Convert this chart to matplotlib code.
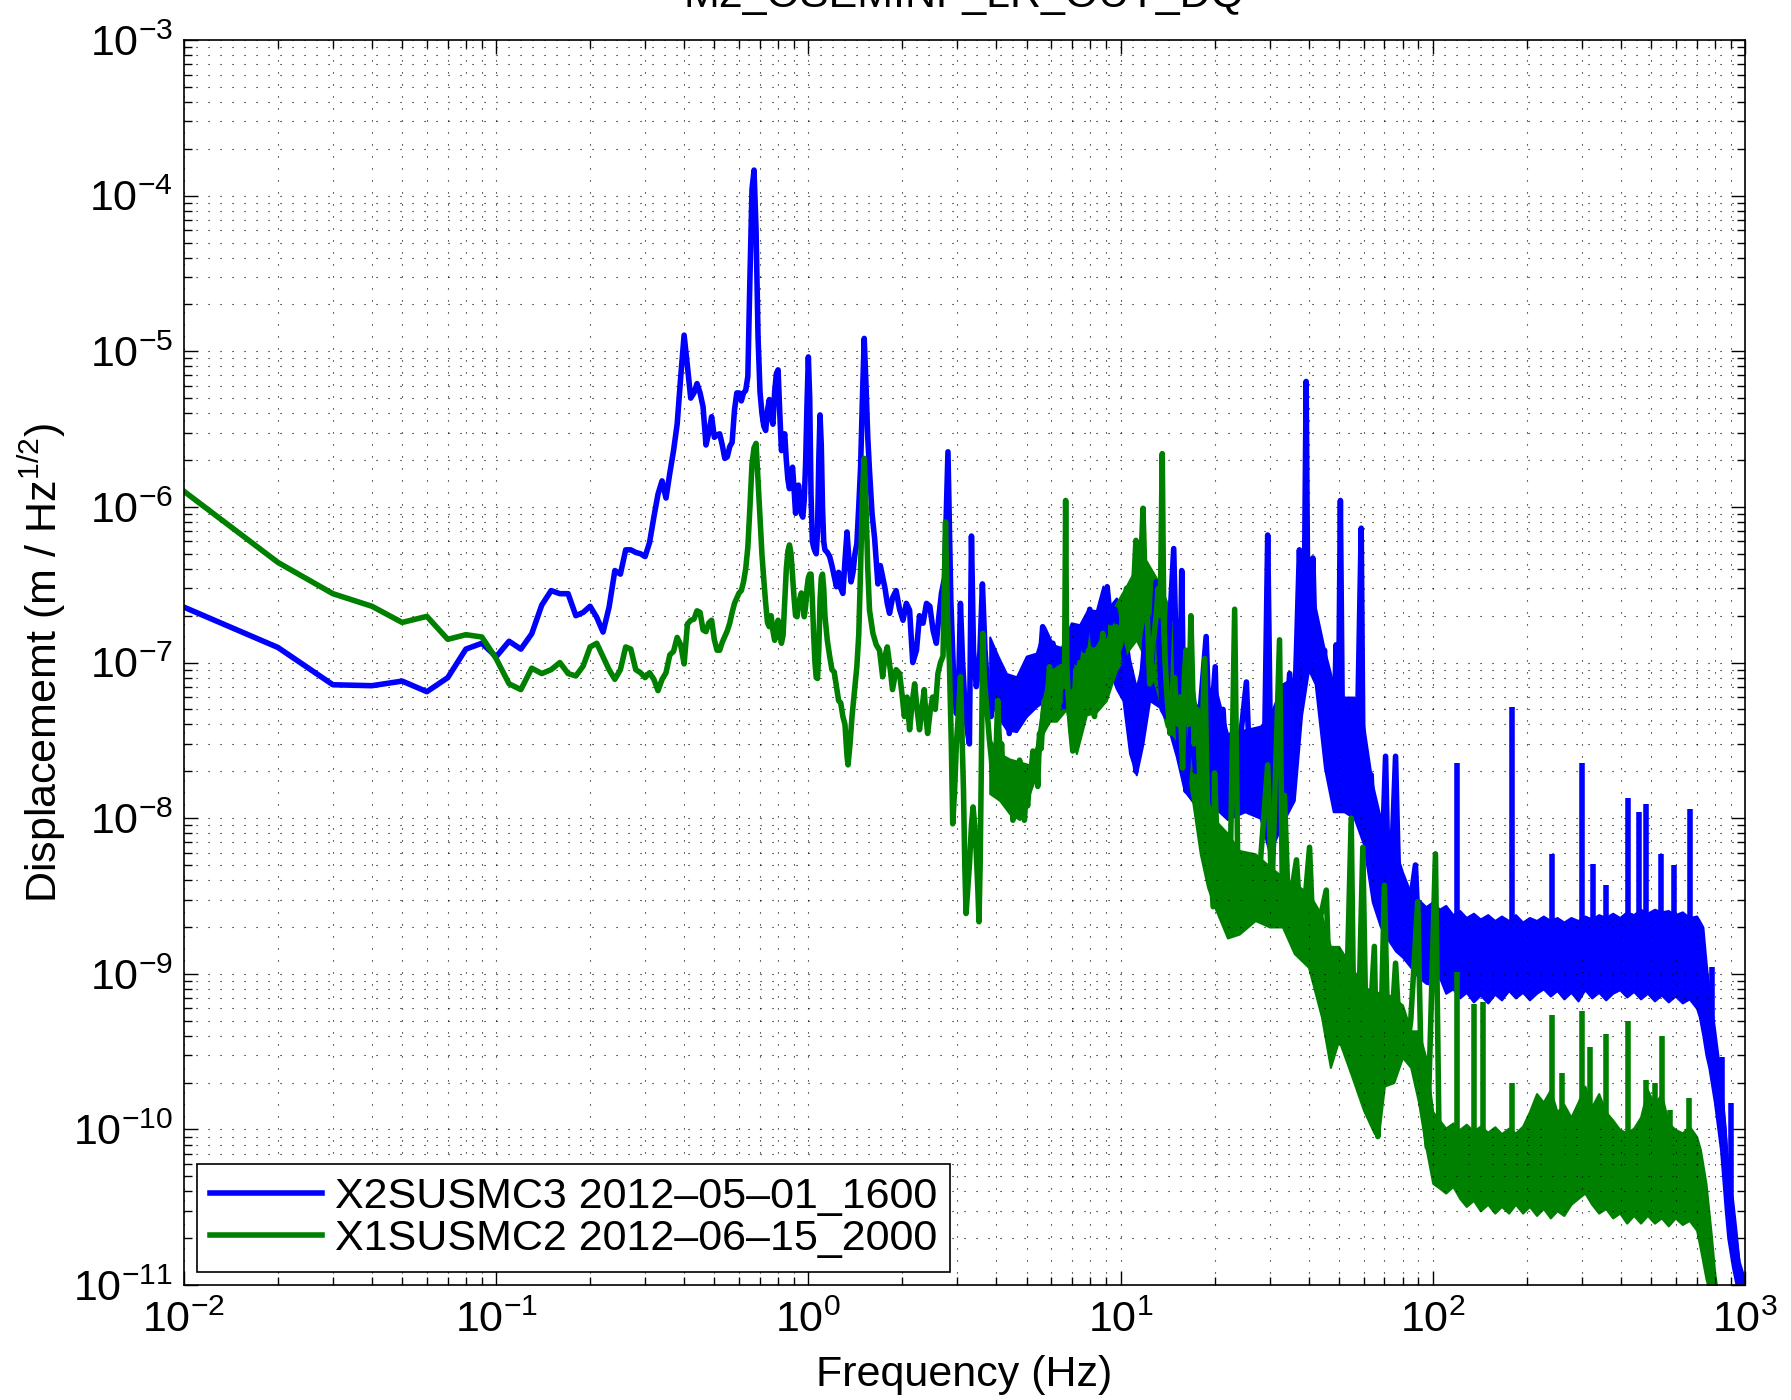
import numpy as np
import matplotlib
matplotlib.use('Agg')
import matplotlib.pyplot as plt
from matplotlib.ticker import LogLocator, NullFormatter

BLUE = (0.0, 0.0, 1.0)
GREEN = (0.0, 0.5, 0.0)

title = "M2_OSEMINF_LR_OUT_DQ"
legend_labels = ["X2SUSMC3 2012\u201305\u201301_1600", "X1SUSMC2 2012\u201306\u201315_2000"]

# X2SUSMC3 trace (Hz, m/rtHz)
blue_freq = [
    0.01, 0.02, 0.03, 0.04, 0.05, 0.06, 0.07, 0.08, 0.09, 0.10,
    0.11, 0.12, 0.13, 0.14, 0.15, 0.16, 0.17, 0.18, 0.19, 0.20,
    0.21, 0.22, 0.23, 0.24, 0.25, 0.26, 0.27, 0.28, 0.29, 0.30,
    0.31, 0.32, 0.33, 0.34, 0.35, 0.36, 0.37, 0.38, 0.39, 0.40,
    0.41, 0.42, 0.43, 0.44, 0.45, 0.46, 0.47, 0.48, 0.49, 0.50,
    0.51, 0.52, 0.53, 0.54, 0.55, 0.56, 0.57, 0.58, 0.59, 0.60,
    0.61, 0.62, 0.63, 0.64, 0.65, 0.66, 0.67, 0.68, 0.69, 0.70,
    0.71, 0.72, 0.73, 0.74, 0.75, 0.76, 0.77, 0.78, 0.79, 0.80,
    0.81, 0.82, 0.83, 0.84, 0.85, 0.86, 0.87, 0.88, 0.89, 0.90,
    0.91, 0.92, 0.93, 0.94, 0.95, 0.96, 0.97, 0.98, 0.99, 1.00,
    1.01, 1.02, 1.03, 1.04, 1.05, 1.06, 1.07, 1.08, 1.09, 1.10,
    1.11, 1.12, 1.13, 1.15, 1.17, 1.19, 1.21, 1.23, 1.25, 1.27,
    1.29, 1.31, 1.33, 1.35, 1.37, 1.39, 1.41, 1.43, 1.45, 1.47,
    1.49, 1.51, 1.53, 1.55, 1.57, 1.60, 1.63, 1.65, 1.67, 1.70,
    1.73, 1.76, 1.79, 1.82, 1.86, 1.91, 1.96, 2.01, 2.06, 2.11,
    2.16, 2.22, 2.27, 2.33, 2.39, 2.45, 2.51, 2.57, 2.62, 2.67,
    2.73, 2.80, 2.86, 2.92, 2.98, 3.03, 3.07, 3.12, 3.18, 3.24,
    3.28, 3.33, 3.38, 3.45, 3.53, 3.61, 3.68, 3.76, 3.85, 3.92,
    4.00, 4.08, 4.16, 4.24, 4.32, 4.40, 4.48, 4.56, 4.64, 4.72,
    4.80, 4.86, 4.94, 5.02, 5.10, 5.20, 5.30, 5.40, 5.50, 5.63,
    5.75, 5.90, 6.07, 6.25, 6.40, 6.60, 6.75, 6.90, 7.05, 7.25,
    7.45, 7.65, 7.97, 8.20, 8.45, 8.70, 8.90, 9.06, 9.30, 9.60,
    9.90, 10.2, 10.5, 10.8, 11.0, 11.2, 11.4, 11.7, 12.0, 12.3,
    12.6, 13.0, 13.3, 13.6, 14.0, 14.3, 14.8, 15.1, 15.4, 15.7,
    16.0, 16.2, 16.8, 17.4, 18.0, 18.8, 19.3, 20.1, 20.6, 21.3,
    22.0, 22.8, 23.5, 24.3, 25.3, 26.0, 27.0, 28.0, 29.0, 29.6,
    30.2, 30.8, 31.5, 32.4, 33.5, 34.8, 35.8, 36.6, 37.4, 38.2,
    38.8, 39.3, 39.8, 40.4, 41.3, 42.0, 43.0, 44.0, 45.0, 46.0,
    47.0, 48.0, 49.0, 49.8, 50.6, 51.4, 52.5, 53.5, 54.8, 56.0,
    57.5, 59.0, 59.8, 61.0, 62.5, 63.5, 65.0, 67.0, 68.5, 70.6,
    72.0, 74.0, 76.0, 78.0, 80.0, 82.0, 85.0, 88.0, 90.0, 93.0,
    96.0, 100., 150., 200., 300., 400., 500., 600., 700., 730.,
    760., 800., 845., 880., 912., 950., 1000.]
blue_asd = [
    2.27e-7, 1.25e-7, 7.2e-8, 7.1e-8, 7.6e-8, 6.5e-8, 8.0e-8, 1.22e-7, 1.33e-7, 1.09e-7,
    1.37e-7, 1.22e-7, 1.53e-7, 2.34e-7, 2.9e-7, 2.77e-7, 2.77e-7, 2.0e-7, 2.1e-7, 2.3e-7,
    1.95e-7, 1.57e-7, 2.27e-7, 3.9e-7, 3.7e-7, 5.3e-7, 5.3e-7, 5.1e-7, 5.0e-7, 4.8e-7,
    5.9e-7, 8.6e-7, 1.21e-6, 1.47e-6, 1.14e-6, 1.65e-6, 2.3e-6, 3.4e-6, 6.8e-6, 1.27e-5,
    8.0e-6, 5.0e-6, 5.4e-6, 6.2e-6, 5.4e-6, 4.4e-6, 2.5e-6, 3.0e-6, 3.8e-6, 2.8e-6,
    2.9e-6, 2.95e-6, 2.5e-6, 2.05e-6, 2.1e-6, 2.44e-6, 2.6e-6, 4.2e-6, 5.4e-6, 5.4e-6,
    4.8e-6, 5.4e-6, 5.6e-6, 6.9e-6, 3.0e-5, 1.1e-4, 1.46e-4, 6.0e-5, 1.24e-5, 5.5e-6,
    4.0e-6, 3.3e-6, 3.1e-6, 4.2e-6, 4.9e-6, 3.8e-6, 3.4e-6, 5.5e-6, 7.2e-6, 7.6e-6,
    4.0e-6, 2.3e-6, 2.6e-6, 2.95e-6, 2.0e-6, 1.5e-6, 1.31e-6, 1.6e-6, 1.8e-6, 1.3e-6,
    9.1e-7, 1.1e-6, 1.38e-6, 1.1e-6, 9.0e-7, 8.6e-7, 1.1e-6, 1.9e-6, 4.5e-6, 9.2e-6,
    5.0e-6, 1.2e-6, 6.0e-7, 5.5e-7, 5.2e-7, 5.0e-7, 7.0e-7, 2.0e-6, 3.9e-6, 2.5e-6,
    1.0e-6, 6.0e-7, 5.3e-7, 5.1e-7, 4.8e-7, 4.2e-7, 3.6e-7, 3.07e-7, 3.8e-7, 3.0e-7,
    2.78e-7, 4.5e-7, 6.9e-7, 4.5e-7, 3.3e-7, 3.8e-7, 5.0e-7, 5.8e-7, 1.0e-6, 1.8e-6,
    5.0e-6, 1.21e-5, 6.0e-6, 2.8e-6, 1.7e-6, 9.0e-7, 6.3e-7, 4.5e-7, 3.2e-7, 4.2e-7,
    3.55e-7, 3.0e-7, 2.4e-7, 2.07e-7, 2.6e-7, 2.9e-7, 2.2e-7, 1.87e-7, 2.4e-7, 2.17e-7,
    1.0e-7, 1.2e-7, 2.0e-7, 1.79e-7, 2.4e-7, 2.3e-7, 1.6e-7, 1.33e-7, 2.0e-7, 2.8e-7,
    3.5e-7, 2.26e-6, 2.5e-7, 8.0e-8, 4.7e-8, 7.0e-8, 2.4e-7, 1.0e-7, 5.0e-8, 3.5e-8,
    3.0e-8, 6.5e-7, 1.2e-7, 7.0e-8, 9.5e-8, 3.2e-7, 1.2e-7, 6.5e-8, 4.5e-8, 7.0e-8,
    1.03e-7, 7.0e-8, 8.5e-8, 5.7e-8, 6.0e-8, 3.5e-8, 5.0e-8, 7.0e-8, 5.5e-8, 4.0e-8,
    6.0e-8, 8.1e-8, 5.5e-8, 9.0e-8, 6.5e-8, 8.0e-8, 1.0e-7, 6.0e-8, 9.0e-8, 1.7e-7,
    1.0e-7, 1.2e-7, 1.33e-7, 1.0e-7, 1.2e-7, 5.2e-8, 1.4e-7, 7.0e-8, 1.3e-7, 1.0e-7,
    1.6e-7, 1.2e-7, 2.2e-7, 1.3e-7, 1.6e-7, 2.5e-7, 1.5e-7, 3.07e-7, 1.8e-7, 2.2e-7,
    1.5e-7, 1.2e-7, 8.0e-8, 5.0e-8, 3.0e-8, 2.0e-8, 4.5e-8, 8.0e-8, 1.5e-7, 1.95e-7,
    1.0e-7, 3.3e-7, 1.2e-7, 5.0e-8, 4.5e-8, 1.5e-7, 5.4e-7, 1.0e-7, 2.7e-8, 3.9e-7,
    2.5e-8, 1.5e-8, 4.0e-8, 2.0e-8, 5.0e-8, 1.47e-7, 3.0e-8, 9.4e-8, 1.5e-8, 5.0e-8,
    1.5e-8, 3.5e-8, 1.5e-8, 3.5e-8, 7.5e-8, 1.8e-8, 3.5e-8, 2.0e-8, 4.0e-8, 6.6e-7,
    3.0e-8, 6.0e-9, 3.0e-8, 6.0e-8, 2.5e-8, 8.5e-8, 3.0e-8, 1.2e-7, 5.3e-7, 1.5e-7,
    3.0e-7, 6.4e-6, 2.0e-7, 1.0e-7, 4.7e-7, 1.3e-7, 1.0e-7, 6.0e-8, 1.2e-7, 3.0e-8,
    6.0e-8, 2.0e-8, 1.3e-7, 3.0e-8, 1.1e-6, 3.0e-8, 5.0e-8, 1.5e-8, 4.0e-8, 1.5e-8,
    4.5e-8, 7.3e-7, 2.0e-8, 1.0e-8, 1.0e-8, 1.9e-8, 6.0e-9, 1.0e-8, 4.0e-9, 2.5e-8,
    4.0e-9, 6.0e-9, 2.5e-8, 3.0e-9, 4.0e-9, 2.2e-9, 3.0e-9, 5.0e-9, 1.8e-9, 2.4e-9,
    1.4e-9, 1.4e-9, 1.3e-9, 1.4e-9, 1.4e-9, 1.4e-9, 1.5e-9, 1.4e-9, 1.3e-9, 8.0e-10,
    5.0e-10, 3.0e-10, 1.3e-10, 5.0e-11, 2.5e-11, 1.4e-11, 1.0e-11]

# envelope of the dense noise band (above ~4 Hz)
blue_band_freq = [
    3.81, 4.05, 4.31, 4.64, 4.99, 5.37, 5.71, 6.07, 6.46, 6.95,
    7.39, 7.86, 8.36, 8.78, 9.22, 9.69, 10.18, 10.69, 11.23, 11.79,
    12.39, 13.67, 15.08,
    16, 18, 20, 22, 25, 28, 30, 33, 36, 38, 40, 42, 45, 48, 52, 56, 60, 64,
    68, 72, 76, 80, 85, 90, 95,
    100, 105, 110, 116, 122, 128, 135, 142, 150, 158, 166, 175, 184, 194, 204,
    215, 226, 238, 250, 263, 277, 292, 307, 323, 340, 358, 377, 397, 418, 440,
    463, 487, 513, 540, 568, 598, 630, 663, 700,
    714, 733, 750, 766, 798, 835, 865, 881, 912, 937, 960, 990]
blue_band_hi = [
    1.46e-7, 1.1e-7, 8.5e-8, 8.1e-8, 1.1e-7, 1.15e-7, 1.7e-7, 1.3e-7, 1.25e-7, 1.8e-7,
    1.75e-7, 2.2e-7, 2.15e-7, 3.1e-7, 2.3e-7, 2.6e-7, 2.2e-7, 1.05e-7, 6.9e-8, 1.05e-7,
    2.8e-7, 3.0e-7, 8e-8,
    3.5e-8, 5.8e-8, 7.3e-8, 3.5e-8, 3.7e-8, 3.9e-8, 4.5e-8, 7.3e-8, 8e-8, 2.2e-7,
    2.7e-7, 2.3e-7, 1.2e-7, 7.3e-8, 6e-8, 6e-8, 4e-8, 1.67e-8, 1e-8, 8e-9, 6.2e-9,
    4.5e-9, 3.3e-9, 3e-9, 2.7e-9,
    2.9e-9, 2.6e-9, 2.75e-9, 2.4e-9, 2.55e-9, 2.3e-9, 2.45e-9, 2.25e-9, 2.4e-9, 2.2e-9,
    2.35e-9, 2.2e-9, 2.4e-9, 2.15e-9, 2.3e-9, 2.2e-9, 2.35e-9, 2.2e-9, 2.3e-9, 2.15e-9,
    2.3e-9, 2.2e-9, 2.35e-9, 2.25e-9, 2.4e-9, 2.3e-9, 2.45e-9, 2.3e-9, 2.5e-9, 2.4e-9,
    2.6e-9, 2.45e-9, 2.6e-9, 2.5e-9, 2.55e-9, 2.4e-9, 2.5e-9, 2.3e-9, 2.35e-9,
    2.2e-9, 2e-9, 1.2e-9, 8e-10, 4.5e-10, 2.2e-10, 1e-10, 5e-11, 3.6e-11, 2.2e-11,
    1.3e-11, 1e-11]
blue_band_lo = [
    5.7e-8, 4.5e-8, 3.7e-8, 3.6e-8, 4.5e-8, 5.2e-8, 5.7e-8, 5.5e-8, 5.7e-8, 6.3e-8,
    6.8e-8, 8.9e-8, 9.2e-8, 1.03e-7, 8.9e-8, 6.8e-8, 5.7e-8, 2.6e-8, 1.9e-8, 3.0e-8,
    5.7e-8, 5e-8, 2.5e-8,
    1.5e-8, 1.1e-8, 1.17e-8, 9.8e-9, 1.1e-8, 1.0e-8, 5.9e-9, 9.3e-9, 1.3e-8, 4.6e-8,
    9e-8, 7.3e-8, 2.1e-8, 1.1e-8, 1.1e-8, 1e-8, 6.8e-9, 2.9e-9, 2e-9, 1.65e-9, 1.4e-9,
    1.28e-9, 1.1e-9, 9.5e-10, 8.7e-10,
    8.5e-10, 9.5e-10, 7.5e-10, 8.0e-10, 7.0e-10, 7.6e-10, 6.6e-10, 7.3e-10, 6.5e-10, 7.4e-10,
    6.8e-10, 7.8e-10, 7.0e-10, 7.6e-10, 6.8e-10, 7.5e-10, 8.0e-10, 7.2e-10, 7.8e-10, 6.9e-10,
    7.6e-10, 6.7e-10, 7.9e-10, 7.0e-10, 7.6e-10, 6.8e-10, 7.5e-10, 7.9e-10, 7.1e-10, 7.7e-10,
    6.9e-10, 7.5e-10, 6.7e-10, 7.3e-10, 6.6e-10, 7.2e-10, 6.5e-10, 6.9e-10, 6.0e-10,
    5.3e-10, 4e-10, 3e-10, 2.5e-10, 1.5e-10, 7.4e-11, 3e-11, 2e-11, 1.3e-11, 1e-11,
    8e-12, 8e-12]

blue_spike_freq = [120, 180, 241, 300, 325, 360, 421, 459, 482, 538, 594, 665, 785, 845, 902]
blue_spike_top = [2.25e-8, 5.2e-8, 5.9e-9, 2.25e-8, 5.1e-9, 3.7e-9, 1.34e-8, 1.1e-8, 1.24e-8,
                  5.9e-9, 5e-9, 1.15e-8, 1.1e-9, 2.9e-10, 1.47e-10]
blue_spike_base = [1.4e-9, 1.4e-9, 1.4e-9, 1.4e-9, 1.4e-9, 1.4e-9, 1.4e-9, 1.4e-9, 1.4e-9,
                   1.4e-9, 1.4e-9, 1.4e-9, 3e-10, 1e-10, 3e-11]

# X1SUSMC2 trace
green_freq = [
    0.01, 0.02, 0.03, 0.04, 0.05, 0.06, 0.07, 0.08, 0.09, 0.10,
    0.11, 0.12, 0.13, 0.14, 0.15, 0.16, 0.17, 0.18, 0.19, 0.20,
    0.21, 0.22, 0.23, 0.24, 0.25, 0.26, 0.27, 0.28, 0.29, 0.30,
    0.31, 0.32, 0.33, 0.34, 0.35, 0.36, 0.37, 0.38, 0.39, 0.40,
    0.41, 0.42, 0.43, 0.44, 0.45, 0.46, 0.47, 0.48, 0.49, 0.50,
    0.51, 0.52, 0.53, 0.54, 0.55, 0.56, 0.57, 0.58, 0.59, 0.60,
    0.61, 0.62, 0.63, 0.64, 0.65, 0.66, 0.67, 0.68, 0.69, 0.70,
    0.71, 0.72, 0.73, 0.74, 0.75, 0.76, 0.77, 0.78, 0.79, 0.80,
    0.81, 0.82, 0.83, 0.84, 0.85, 0.86, 0.87, 0.88, 0.89, 0.90,
    0.91, 0.92, 0.93, 0.94, 0.95, 0.96, 0.97, 0.98, 0.99, 1.00,
    1.01, 1.02, 1.03, 1.04, 1.05, 1.06, 1.07, 1.08, 1.09, 1.10,
    1.11, 1.12, 1.13, 1.15, 1.17, 1.19, 1.21, 1.23, 1.25, 1.27,
    1.29, 1.31, 1.33, 1.34, 1.36, 1.38, 1.41, 1.43, 1.45, 1.47,
    1.49, 1.51, 1.53, 1.55, 1.57, 1.61, 1.65, 1.69, 1.73, 1.76,
    1.79, 1.83, 1.86, 1.91, 1.96, 2.00, 2.03, 2.07, 2.11, 2.15,
    2.19, 2.23, 2.27, 2.31, 2.35, 2.38, 2.41, 2.46, 2.50, 2.55,
    2.60, 2.65, 2.70, 2.75, 2.79, 2.83, 2.87, 2.90, 2.94, 2.98,
    3.03, 3.07, 3.10, 3.14, 3.17, 3.20, 3.24, 3.28, 3.33, 3.37,
    3.41, 3.45, 3.49, 3.52, 3.55, 3.58, 3.62, 3.66, 3.70, 3.75,
    3.80, 3.85, 3.90, 3.95, 4.00, 4.04, 4.08, 4.12, 4.16, 4.20,
    4.25, 4.30, 4.36, 4.40, 4.45, 4.52, 4.58, 4.65, 4.70, 4.75,
    4.80, 4.86, 4.92, 4.98, 5.04, 5.10, 5.17, 5.24, 5.30, 5.37,
    5.43, 5.50, 5.57, 5.64, 5.70, 5.78, 5.85, 5.92, 6.00, 6.10,
    6.20, 6.30, 6.38, 6.45, 6.55, 6.62, 6.67, 6.72, 6.80, 6.90,
    7.03, 7.12, 7.20, 7.30, 7.40, 7.50, 7.60, 7.70, 7.80, 7.90,
    8.00, 8.12, 8.25, 8.38, 8.50, 8.62, 8.77, 8.90, 9.00, 9.15,
    9.30, 9.50, 9.70, 9.85, 10.0, 10.15, 10.3, 10.45, 10.6, 10.75,
    10.9, 11.05, 11.2, 11.35, 11.5, 11.65, 11.8, 11.95, 12.1, 12.25,
    12.4, 12.6, 12.8, 13.0, 13.2, 13.4, 13.6, 13.75, 13.9, 14.1,
    14.4, 14.6, 14.9, 15.1, 15.3, 15.5, 15.8, 16.0, 16.2, 16.5,
    16.8, 17.2, 17.6, 18.0, 18.6, 19.0, 19.8, 20.0, 20.5, 21.5,
    22.5, 23.2, 23.8, 25.0, 26.5, 28.0, 29.6, 30.5, 32.3, 33.0,
    33.5, 34.5, 36.6, 38.0, 40.3, 41.5, 43.0, 45.6, 47.3, 49.0,
    51.0, 53.0, 54.8, 56.0, 58.0, 59.7, 61.5, 63.0, 65.0, 66.7,
    68.0, 70.0, 72.0, 74.0, 76.0, 79.0, 82.0, 85.0, 89.5, 92.0,
    96.0, 102., 105., 150., 200., 300., 400., 500., 600., 700.,
    730., 760., 790., 810.]
green_asd = [
    1.26e-6, 4.4e-7, 2.77e-7, 2.3e-7, 1.81e-7, 1.98e-7, 1.41e-7, 1.51e-7, 1.46e-7, 1.06e-7,
    7.3e-8, 6.7e-8, 9.2e-8, 8.5e-8, 9.0e-8, 1.0e-7, 8.5e-8, 8.2e-8, 9.5e-8, 1.26e-7,
    1.33e-7, 1.09e-7, 9.0e-8, 7.8e-8, 9.0e-8, 1.26e-7, 1.22e-7, 9.0e-8, 8.6e-8, 8.0e-8,
    8.6e-8, 7.8e-8, 6.6e-8, 7.8e-8, 8.6e-8, 1.12e-7, 1.18e-7, 1.45e-7, 1.3e-7, 9.8e-8,
    1.77e-7, 1.87e-7, 1.9e-7, 2.15e-7, 2.1e-7, 1.62e-7, 1.58e-7, 1.8e-7, 1.87e-7, 1.4e-7,
    1.2e-7, 1.2e-7, 1.35e-7, 1.47e-7, 1.6e-7, 1.79e-7, 2.1e-7, 2.4e-7, 2.6e-7, 2.8e-7,
    2.9e-7, 3.3e-7, 4.0e-7, 5.5e-7, 1.0e-6, 1.9e-6, 2.4e-6, 2.56e-6, 1.5e-6, 8.6e-7,
    5.0e-7, 3.4e-7, 2.4e-7, 1.8e-7, 1.7e-7, 2.0e-7, 1.6e-7, 1.39e-7, 1.7e-7, 1.87e-7,
    1.5e-7, 1.33e-7, 1.5e-7, 2.5e-7, 4.0e-7, 5.2e-7, 5.7e-7, 5.0e-7, 3.6e-7, 2.6e-7,
    2.0e-7, 1.97e-7, 2.3e-7, 2.6e-7, 2.8e-7, 2.5e-7, 1.97e-7, 2.3e-7, 3.0e-7, 3.5e-7,
    3.7e-7, 3.7e-7, 2.5e-7, 1.5e-7, 1.0e-7, 8.0e-8, 7.9e-8, 1.2e-7, 2.5e-7, 3.5e-7,
    3.7e-7, 3.0e-7, 2.0e-7, 1.39e-7, 1.1e-7, 9.0e-8, 8.7e-8, 7.0e-8, 5.7e-8, 5.5e-8,
    4.5e-8, 4.0e-8, 2.5e-8, 2.2e-8, 3.0e-8, 4.5e-8, 7.0e-8, 9.4e-8, 1.5e-7, 4.0e-7,
    1.2e-6, 2.05e-6, 1.0e-6, 4.0e-7, 2.17e-7, 1.54e-7, 1.3e-7, 1.2e-7, 8.1e-8, 1.1e-7,
    1.26e-7, 9.0e-8, 6.7e-8, 9.0e-8, 8.5e-8, 6.0e-8, 4.5e-8, 6.0e-8, 3.7e-8, 5.5e-8,
    7.3e-8, 5.0e-8, 3.7e-8, 5.0e-8, 6.7e-8, 4.5e-8, 3.5e-8, 5.0e-8, 6.0e-8, 5.0e-8,
    8.5e-8, 1.0e-7, 1.1e-7, 8.0e-7, 2.0e-7, 1.0e-7, 3.0e-8, 9.2e-9, 1.5e-8, 3.0e-8,
    5.0e-8, 8.1e-8, 4.0e-8, 1.5e-8, 5.0e-9, 2.44e-9, 3.5e-9, 5.0e-9, 9.0e-9, 1.18e-8,
    9.0e-9, 6.0e-9, 3.5e-9, 2.16e-9, 5.0e-9, 2.0e-8, 1.54e-7, 8.0e-8, 6.0e-8, 4.5e-8,
    3.2e-8, 2.5e-8, 1.8e-8, 1.44e-8, 3.0e-8, 5.7e-8, 3.5e-8, 2.5e-8, 3.0e-8, 1.94e-8,
    1.5e-8, 2.0e-8, 1.3e-8, 1.8e-8, 2.2e-8, 9.7e-9, 1.4e-8, 1.6e-8, 1.2e-8, 2.36e-8,
    1.5e-8, 1.2e-8, 9.7e-9, 1.4e-8, 1.2e-8, 1.67e-8, 2.0e-8, 2.7e-8, 2.0e-8, 2.5e-8,
    1.6e-8, 3.5e-8, 2.8e-8, 4.5e-8, 5.7e-8, 4.0e-8, 6.5e-8, 9.4e-8, 6.5e-8, 8.5e-8,
    6.3e-8, 8.0e-8, 5.5e-8, 9.4e-8, 7.0e-8, 1.0e-7, 1.1e-6, 1.0e-7, 6.0e-8, 4.0e-8,
    2.7e-8, 6.0e-8, 9.0e-8, 7.0e-8, 1.0e-7, 6.5e-8, 6.0e-8, 1.0e-7, 8.0e-8, 1.2e-7,
    9.0e-8, 6.0e-8, 4.5e-8, 8.0e-8, 1.0e-7, 7.5e-8, 1.54e-7, 1.0e-7, 8.0e-8, 1.3e-7,
    1.0e-7, 1.4e-7, 1.7e-7, 1.2e-7, 1.3e-7, 2.2e-7, 2.0e-7, 3.0e-7, 2.5e-7, 3.0e-7,
    1.6e-7, 3.5e-7, 6.1e-7, 3.0e-7, 4.0e-7, 5.0e-7, 9.8e-7, 4.0e-7, 3.0e-7, 1.5e-7,
    7.3e-8, 1.2e-7, 1.5e-7, 2.0e-7, 3.0e-7, 2.0e-7, 2.2e-6, 2.0e-7, 1.0e-7, 6.0e-8,
    3.5e-8, 6.0e-8, 8.0e-8, 5.0e-8, 4.0e-8, 6.0e-8, 2.1e-8, 8.0e-8, 1.2e-7, 4.0e-8,
    2.0e-7, 3.0e-8, 5.0e-8, 1.5e-8, 1.06e-7, 1.0e-8, 2.7e-9, 1.95e-8, 5.0e-9, 3.0e-9,
    6.0e-9, 2.2e-7, 3.0e-9, 5.0e-9, 2.5e-9, 5.0e-9, 2.2e-8, 3.0e-9, 1.4e-7, 3.0e-9,
    1.4e-8, 2.5e-9, 5.4e-9, 1.6e-9, 6.5e-9, 1.5e-9, 2.0e-9, 3.45e-9, 3.0e-10, 1.0e-9,
    4.0e-10, 7.0e-10, 1.0e-8, 3.0e-10, 6.0e-10, 6.5e-9, 2.0e-10, 5.0e-10, 1.5e-9, 9.0e-11,
    3.0e-10, 3.7e-9, 3.0e-10, 5.0e-10, 1.17e-9, 3.0e-10, 2.9e-10, 5.0e-10, 2.9e-9, 2.0e-10,
    7.7e-11, 5.9e-9, 6.0e-11, 5.5e-11, 5.5e-11, 6.0e-11, 5.0e-11, 6.0e-11, 5.5e-11, 4.5e-11,
    3.0e-11, 1.6e-11, 1.0e-11, 8.0e-12]

green_band_freq = [
    3.81, 4.10, 4.41, 4.75, 5.11, 5.37, 5.64, 5.93, 6.23, 6.70,
    7.04, 7.22, 7.77, 8.36, 9.0, 9.69, 10.43, 11.23, 12.09, 13.01,
    14.0, 15.08,
    16, 17, 18, 19, 20, 22, 24, 27, 30, 33, 36, 40, 44, 47, 50, 55, 60, 65,
    67, 70, 75, 80, 85, 90, 95,
    100, 105, 110, 116, 122, 128, 135, 142, 150, 158, 166, 175, 184, 194, 204,
    215, 226, 238, 250, 263, 277, 292, 307, 323, 340, 358, 377, 397, 418, 440,
    463, 487, 513, 540, 568, 598, 630, 663, 700,
    720, 750, 780, 800, 810]
green_band_hi = [
    3.2e-8, 2.6e-8, 2.4e-8, 2.3e-8, 2.2e-8, 2.9e-8, 5.7e-8, 8.9e-8, 9.3e-8, 1.2e-7,
    1.1e-7, 1.03e-7, 1.7e-7, 1.26e-7, 1.7e-7, 2.4e-7, 3.1e-7, 4.1e-7, 4.5e-7, 3.5e-7,
    2.5e-7, 1.26e-7,
    1.2e-7, 7.3e-8, 3.5e-8, 1.3e-8, 9.8e-9, 8e-9, 6.2e-9, 5.9e-9, 4.9e-9, 4.2e-9,
    3.8e-9, 3.3e-9, 2.4e-9, 1.5e-9, 1.5e-9, 1.1e-9, 8.3e-10, 7.6e-10, 7.6e-10,
    7.6e-10, 7e-10, 6.3e-10, 4.3e-10, 4.3e-10, 2.9e-10,
    1.3e-10, 1.15e-10, 1.02e-10, 1.1e-10, 1.0e-10, 1.08e-10, 9.8e-11, 1.05e-10, 9.6e-11,
    1.04e-10, 9.4e-11, 1.02e-10, 9.5e-11, 1.05e-10, 1.3e-10, 1.7e-10, 1.5e-10, 1.8e-10,
    1.3e-10, 1.45e-10, 1.2e-10, 1.5e-10, 1.9e-10, 1.4e-10, 1.7e-10, 1.3e-10, 1.15e-10,
    1.0e-10, 9.5e-11, 1.02e-10, 1.2e-10, 1.8e-10, 1.45e-10, 1.7e-10, 1.1e-10, 1.0e-10,
    9.5e-11, 1.05e-10, 9.0e-11,
    7.4e-11, 4.5e-11, 2.1e-11, 1.2e-11, 1e-11]
green_band_lo = [
    1.44e-8, 1.3e-8, 1.07e-8, 9.8e-9, 1.44e-8, 1.9e-8, 3.5e-8, 4.2e-8, 4.2e-8, 5e-8,
    3e-8, 2.6e-8, 4.6e-8, 4.8e-8, 5.7e-8, 8.9e-8, 1.15e-7, 1.4e-7, 1.03e-7, 6.9e-8,
    3.9e-8, 3.2e-8,
    2.75e-8, 1.3e-8, 5.9e-9, 3.6e-9, 2.7e-9, 1.7e-9, 1.8e-9, 2.2e-9, 2e-9, 2e-9,
    1.35e-9, 1.1e-9, 5.3e-10, 2.5e-10, 3.75e-10, 2.2e-10, 1.33e-10, 9.4e-11, 9e-11,
    1.9e-10, 2e-10, 2.9e-10, 2.5e-10, 1.5e-10, 7.7e-11,
    4.5e-11, 4.2e-11, 3.9e-11, 4.3e-11, 3.6e-11, 3.2e-11, 3.5e-11, 3.0e-11, 3.3e-11,
    2.9e-11, 3.2e-11, 2.9e-11, 3.3e-11, 2.9e-11, 3.2e-11, 2.8e-11, 3.1e-11, 2.7e-11,
    3.0e-11, 2.8e-11, 3.3e-11, 3.6e-11, 3.9e-11, 3.3e-11, 2.9e-11, 3.1e-11, 2.7e-11,
    2.9e-11, 2.5e-11, 2.8e-11, 2.5e-11, 2.8e-11, 2.5e-11, 2.7e-11, 2.4e-11, 2.7e-11,
    2.45e-11, 2.6e-11, 2.25e-11,
    1.7e-11, 1.1e-11, 8e-12, 8e-12, 8e-12]

green_spike_freq = [120, 136, 145, 180, 241, 259, 300, 320, 360, 421, 482, 516, 543, 576, 661]
green_spike_top = [1.03e-9, 6.4e-10, 6.6e-10, 2e-10, 5.4e-10, 2.3e-10, 5.8e-10, 3.4e-10,
                   4.1e-10, 5e-10, 2.07e-10, 2e-10, 4e-10, 1.33e-10, 1.6e-10]
green_spike_base = [5e-11] * len(green_spike_freq)

plt.rcParams['font.family'] = ['Liberation Sans', 'DejaVu Sans']
plt.rcParams['mathtext.fontset'] = 'custom'
plt.rcParams['mathtext.rm'] = 'Liberation Sans'
plt.rcParams['mathtext.it'] = 'Liberation Sans:italic'
plt.rcParams['mathtext.bf'] = 'Liberation Sans:bold'
plt.rcParams['mathtext.default'] = 'regular'
plt.rcParams['lines.solid_joinstyle'] = 'round'

FS = 31
LW = 4.0

fig = plt.figure(figsize=(17.91, 14.0), dpi=100)
ax = fig.add_axes([0.1027, 0.0821, 0.8716, 0.8893])

# blue first, green drawn over it
ax.fill_between(blue_band_freq, blue_band_lo, blue_band_hi, color=BLUE, lw=1.5)
line_b, = ax.plot(blue_freq, blue_asd, color=BLUE, lw=LW, label=legend_labels[0])
ax.vlines(blue_spike_freq, blue_spike_base, blue_spike_top, color=BLUE, lw=LW)

ax.fill_between(green_band_freq, green_band_lo, green_band_hi, color=GREEN, lw=1.5)
line_g, = ax.plot(green_freq, green_asd, color=GREEN, lw=LW, label=legend_labels[1])
ax.vlines(green_spike_freq, green_spike_base, green_spike_top, color=GREEN, lw=LW)

ax.set_xscale('log')
ax.set_yscale('log')
ax.set_xlim(1e-2, 1e3)
ax.set_ylim(1e-11, 1e-3)

for axis in (ax.xaxis, ax.yaxis):
    axis.set_major_locator(LogLocator(base=10, numticks=30))
    axis.set_minor_locator(LogLocator(base=10, subs=np.arange(2, 10), numticks=300))
    axis.set_minor_formatter(NullFormatter())

ax.grid(True, which='both', color='k', lw=0.8, linestyle=(0, (1, 9.8)))
ax.tick_params(which='both', direction='in', top=True, right=True, labelsize=FS, width=1)
ax.tick_params(which='major', length=10)
ax.tick_params(which='minor', length=5.5)
ax.tick_params(axis='x', pad=11)
ax.tick_params(axis='y', pad=8)
for sp in ax.spines.values():
    sp.set_linewidth(1.2)

ax.set_xlabel('Frequency (Hz)', fontsize=FS)
ax.xaxis.set_label_coords(0.5, -0.056)
ax.set_ylabel('Displacememt (m / Hz$^{1/2}$)', fontsize=FS)
ax.yaxis.set_label_coords(-0.074, 0.5)

fig.text(0.5385, 1 - 7 / 1400, title, ha='center', va='baseline', fontsize=FS)

leg = ax.legend(handles=[line_b, line_g], loc='lower left', bbox_to_anchor=(0.0, 0.0),
                fontsize=FS, frameon=True, fancybox=False, framealpha=1,
                edgecolor='black', borderpad=0.3, borderaxespad=0.3,
                handlelength=2.6, handletextpad=0.3, labelspacing=0.05)
leg.get_frame().set_linewidth(1.2)

fig.savefig('out.png', dpi=100)
